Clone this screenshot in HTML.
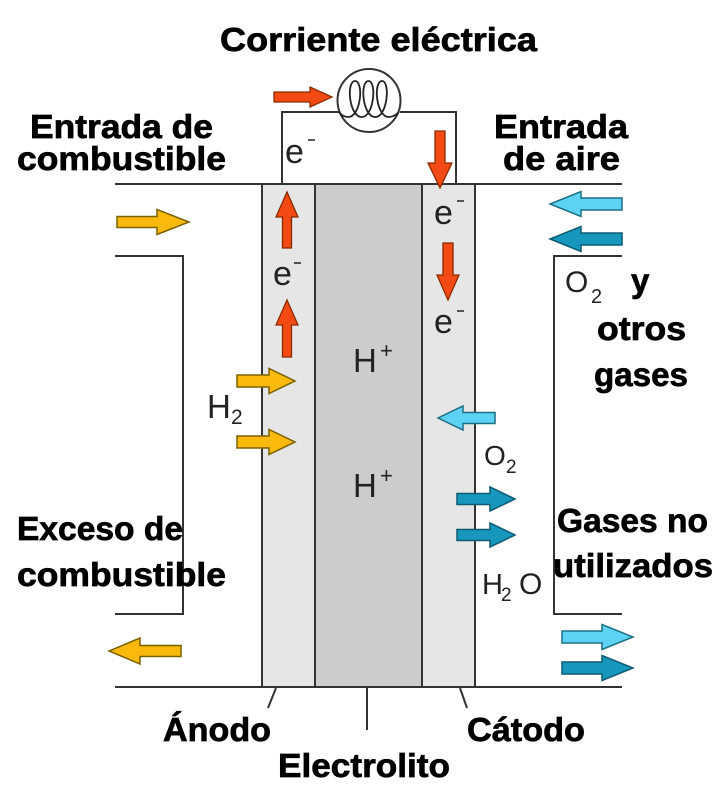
<!DOCTYPE html>
<html>
<head>
<meta charset="utf-8">
<style>
html,body{margin:0;padding:0;background:#fff;}
svg{display:block;}
.b{font-family:"Liberation Sans",sans-serif;font-weight:bold;font-size:33px;fill:#000;stroke:#000;stroke-width:0.7px;}
.r{font-family:"Liberation Sans",sans-serif;fill:#222;}
</style>
</head>
<body>
<svg width="713" height="800" viewBox="0 0 713 800" xmlns="http://www.w3.org/2000/svg">
<!-- strips -->
<rect x="262" y="184" width="53" height="503" fill="#e6e6e6"/>
<rect x="315" y="184" width="107" height="503" fill="#cccccc"/>
<rect x="422" y="184" width="53" height="503" fill="#e6e6e6"/>
<g stroke="#333" stroke-width="2" fill="none">
  <line x1="262" y1="184" x2="262" y2="687"/>
  <line x1="315" y1="184" x2="315" y2="687"/>
  <line x1="422" y1="184" x2="422" y2="687"/>
  <line x1="475" y1="184" x2="475" y2="687"/>
  <line x1="115" y1="184" x2="622" y2="184"/>
  <line x1="115" y1="687" x2="622" y2="687"/>
  <polyline points="115,256 183,256 183,614 115,614"/>
  <polyline points="622,256 554,256 554,614 622,614"/>
  <!-- circuit -->
  <polyline points="282,184 282,112 339,112"/>
  <polyline points="400,112 456,112 456,184"/>
  <circle cx="369" cy="100.5" r="31.5"/>
  <!-- leaders -->
  <line x1="276" y1="688" x2="268" y2="708"/>
  <line x1="367" y1="688" x2="367" y2="730"/>
  <line x1="460" y1="688" x2="467" y2="708"/>
</g>
<!-- coil -->
<path fill="none" stroke="#222" stroke-width="1.8" d="M339,112 C342,116 345,117 348.25,117
 C361,117 364,81 355,81
 C346,81 349,117 361.75,117 C374,117 377,81 368.5,81
 C359.5,81 362.5,117 375.25,117 C387.5,117 390.5,81 382,81
 C373,81 376,117 388.75,117 C393,117 396,115 399,112"/>

<!-- yellow arrows -->
<g fill="#f9b90d" stroke="#7a6200" stroke-width="1.5">
  <polygon points="117,216.5 157,216.5 157,209.5 189,222 157,234.5 157,227.5 117,227.5"/>
  <polygon points="237,375 269,375 269,368.5 295,381 269,393.5 269,387 237,387"/>
  <polygon points="237,436 269,436 269,429.5 295,442 269,454.5 269,448 237,448"/>
  <polygon points="181,645.5 140,645.5 140,638 109,651 140,664 140,656.5 181,656.5"/>
</g>
<!-- light blue -->
<g fill="#5dd2f4" stroke="#1f6f85" stroke-width="1.5">
  <polygon points="622,198 581,198 581,191.5 550,204 581,216.5 581,210 622,210"/>
  <polygon points="495,412.5 463,412.5 463,406 438,418 463,430 463,423.5 495,423.5"/>
  <polygon points="562,631 602,631 602,624.5 633,637 602,649.5 602,643 562,643"/>
</g>
<!-- dark blue -->
<g fill="#1897be" stroke="#0e5a72" stroke-width="1.5">
  <polygon points="622,233 581,233 581,226.5 550,239 581,251.5 581,245 622,245"/>
  <polygon points="457,493.5 490,493.5 490,487 515,499 490,511 490,504.5 457,504.5"/>
  <polygon points="457,529.5 490,529.5 490,523 515,535 490,547 490,540.5 457,540.5"/>
  <polygon points="562,662 602,662 602,655.5 633,668 602,680.5 602,674 562,674"/>
</g>
<!-- red -->
<g fill="#f24a12" stroke="#8a2a00" stroke-width="1.3">
  <polygon points="274,92 310,92 310,87 332,97 310,107 310,102 274,102"/>
  <polygon points="435,131 445,131 445,163 452,163 440,188 428,163 435,163"/>
  <polygon points="282.5,248 291.5,248 291.5,217 298,217 287,192 276,217 282.5,217"/>
  <polygon points="282.5,357 291.5,357 291.5,325 298,325 287,300 276,325 282.5,325"/>
  <polygon points="443,243 453,243 453,275 459,275 448,300 437,275 443,275"/>
</g>

<!-- bold labels -->
<text class="b" x="220" y="51" textLength="317" lengthAdjust="spacingAndGlyphs">Corriente eléctrica</text>
<text class="b" x="30" y="138" textLength="183" lengthAdjust="spacingAndGlyphs">Entrada de</text>
<text class="b" x="17" y="170" textLength="209" lengthAdjust="spacingAndGlyphs">combustible</text>
<text class="b" x="494" y="138" textLength="134" lengthAdjust="spacingAndGlyphs">Entrada</text>
<text class="b" x="503" y="170" textLength="117" lengthAdjust="spacingAndGlyphs">de aire</text>
<text class="b" x="631" y="292">y</text>
<text class="b" x="597" y="340" textLength="89" lengthAdjust="spacingAndGlyphs">otros</text>
<text class="b" x="594" y="386" textLength="94" lengthAdjust="spacingAndGlyphs">gases</text>
<text class="b" x="17" y="540" textLength="166" lengthAdjust="spacingAndGlyphs">Exceso de</text>
<text class="b" x="17" y="586" textLength="209" lengthAdjust="spacingAndGlyphs">combustible</text>
<text class="b" x="557" y="532" textLength="151" lengthAdjust="spacingAndGlyphs">Gases no</text>
<text class="b" x="553" y="577" textLength="160" lengthAdjust="spacingAndGlyphs">utilizados</text>
<text class="b" x="163" y="741" textLength="108" lengthAdjust="spacingAndGlyphs">Ánodo</text>
<text class="b" x="278" y="777" textLength="172" lengthAdjust="spacingAndGlyphs">Electrolito</text>
<text class="b" x="467" y="741" textLength="118" lengthAdjust="spacingAndGlyphs">Cátodo</text>

<!-- small labels -->
<g class="r">
  <text x="285" y="163" font-size="34">e</text>
  <text x="273" y="285" font-size="34">e</text>
  <text x="434" y="224" font-size="34">e</text>
  <text x="434" y="333" font-size="34">e</text>

  <text x="207" y="418" font-size="33">H</text>
  <text x="231" y="424" font-size="21">2</text>
  <text x="353" y="372" font-size="33">H</text>
  <text x="380" y="358" font-size="22">+</text>
  <text x="353" y="497" font-size="33">H</text>
  <text x="380" y="483" font-size="22">+</text>

  <text x="565" y="292" font-size="30">O</text>
  <text x="591" y="303" font-size="20">2</text>
  <text x="484" y="465" font-size="28">O</text>
  <text x="506" y="473" font-size="19">2</text>
  <text x="482" y="594" font-size="29">H</text>
  <text x="501" y="601" font-size="19">2</text>
  <text x="519" y="594" font-size="30">O</text>
</g>
<g stroke="#222" stroke-width="1.5">
  <line x1="308" y1="140" x2="315" y2="140"/>
  <line x1="294" y1="263" x2="301" y2="263"/>
  <line x1="457" y1="201" x2="464" y2="201"/>
  <line x1="457" y1="311" x2="464" y2="311"/>
</g>
</svg>
</body>
</html>
